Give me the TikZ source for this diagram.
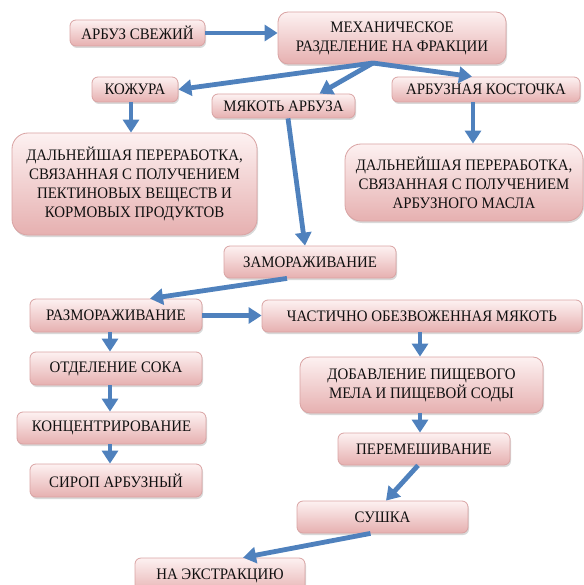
\documentclass[tikz,border=0pt]{standalone}
\usepackage{fontspec}
\setmainfont[FakeStretch=0.93]{Liberation Serif}
\usetikzlibrary{arrows.meta,shadows}
\definecolor{boxtop}{HTML}{FDF1F1}
\definecolor{boxbot}{HTML}{E6B0B0}
\definecolor{boxline}{HTML}{D9A3A3}
\definecolor{arr}{HTML}{4F81BD}
\definecolor{txt}{HTML}{101010}
\tikzset{
  box/.style={draw=boxline, line width=0.8pt, top color=boxtop, bottom color=boxbot,
    rounded corners=6pt, inner sep=0pt, align=center, text=txt,
    font=\fontsize{16}{19}\selectfont,
    drop shadow={shadow xshift=1pt, shadow yshift=-2pt, opacity=0.25, fill=black!60}},
  bigbox/.style={box, rounded corners=16pt},
  flow/.style={draw=arr, line width=4.8pt, -{Triangle[length=13pt,width=16pt]}},
}
\begin{document}
\begin{tikzpicture}[x=1pt,y=-1pt]
\useasboundingbox (0,0) rectangle (583,585);
\node[box, minimum width=135pt, minimum height=26pt] (a) at (137.5,33) {АРБУЗ СВЕЖИЙ};
\node[box, rounded corners=10pt, minimum width=228pt, minimum height=52pt] (mech) at (392,38) {МЕХАНИЧЕСКОЕ\\РАЗДЕЛЕНИЕ НА ФРАКЦИИ};
\node[box, minimum width=86pt, minimum height=25pt] (kozh) at (135,89.5) {КОЖУРА};
\node[box, minimum width=143pt, minimum height=24pt] (myak) at (283.5,106) {МЯКОТЬ АРБУЗА};
\node[box, minimum width=188pt, minimum height=25pt] (kost) at (486,89.5) {АРБУЗНАЯ КОСТОЧКА};
\node[bigbox, minimum width=245pt, minimum height=102pt] (d1) at (134.5,184) {ДАЛЬНЕЙШАЯ ПЕРЕРАБОТКА,\\СВЯЗАННАЯ С ПОЛУЧЕНИЕМ\\ПЕКТИНОВЫХ ВЕЩЕСТВ И\\КОРМОВЫХ ПРОДУКТОВ};
\node[bigbox, minimum width=238pt, minimum height=77pt] (d2) at (464,182.5) {ДАЛЬНЕЙШАЯ ПЕРЕРАБОТКА,\\СВЯЗАННАЯ С ПОЛУЧЕНИЕМ\\АРБУЗНОГО МАСЛА};
\node[box, minimum width=172pt, minimum height=32pt] (zam) at (310,262) {ЗАМОРАЖИВАНИЕ};
\node[box, minimum width=172pt, minimum height=33pt] (razm) at (116,315.5) {РАЗМОРАЖИВАНИЕ};
\node[box, minimum width=320pt, minimum height=32pt] (chast) at (422,316) {ЧАСТИЧНО ОБЕЗВОЖЕННАЯ МЯКОТЬ};
\node[box, minimum width=172pt, minimum height=33pt] (otd) at (116,368.5) {ОТДЕЛЕНИЕ СОКА};
\node[box, minimum width=189pt, minimum height=32pt] (konc) at (111.5,428) {КОНЦЕНТРИРОВАНИЕ};
\node[box, minimum width=172pt, minimum height=33pt] (sirop) at (116,480.5) {СИРОП АРБУЗНЫЙ};
\node[box, rounded corners=10pt, minimum width=243pt, minimum height=56pt] (dob) at (421.5,385) {ДОБАВЛЕНИЕ ПИЩЕВОГО\\МЕЛА И ПИЩЕВОЙ СОДЫ};
\node[box, minimum width=172pt, minimum height=32pt] (perem) at (424,449) {ПЕРЕМЕШИВАНИЕ};
\node[box, minimum width=171pt, minimum height=32pt] (sush) at (382.5,517) {СУШКА};
\node[box, minimum width=170pt, minimum height=36pt] (ekstr) at (220,576) {НА ЭКСТРАКЦИЮ};
\coordinate (split) at (373,63);
% connectors
\draw[flow] (a.east) -- (a.east -| mech.west);
\draw[flow] (split) -- (kozh.east);
\draw[flow] (split) -- ([xshift=36pt]myak.north);
\draw[flow] (split) -- ([xshift=-14pt]kost.north);
\draw[flow] ([xshift=-4pt]kozh.south) -- ([xshift=-4pt]kozh.south |- d1.north);
\draw[flow] ([xshift=4.5pt]myak.south) -- ([xshift=-5pt]zam.north);
\draw[flow] ([xshift=-13pt]kost.south) -- ([xshift=-13pt]kost.south |- d2.north);
\draw[flow] ([xshift=-23pt]zam.south) -- ([xshift=34pt]razm.north);
\draw[flow] (razm.east) -- (razm.east -| chast.west);
\draw[flow] ([xshift=-6pt]razm.south) -- ([xshift=-6pt]razm.south |- otd.north);
\draw[flow] ([xshift=-6pt]otd.south) -- ([xshift=-6pt]otd.south |- konc.north);
\draw[flow] ([xshift=-6pt]otd.south |- konc.south) -- ([xshift=-6pt]otd.south |- sirop.north);
\draw[flow] ([xshift=-2pt]chast.south) -- ([xshift=-2pt]chast.south |- dob.north);
\draw[flow] ([xshift=-1.5pt]dob.south) -- ([xshift=-1.5pt]dob.south |- perem.north);
\draw[flow] ([xshift=-6pt]perem.south) -- ([xshift=3.5pt]sush.north);
\draw[flow] ([xshift=-12pt]sush.south) -- ([xshift=23pt]ekstr.north);
\end{tikzpicture}
\end{document}
